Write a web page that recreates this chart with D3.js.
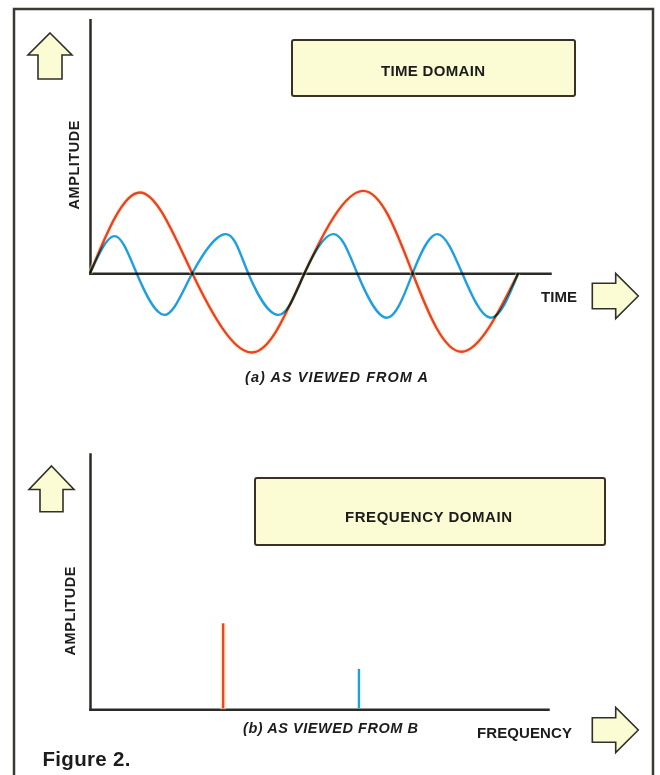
<!DOCTYPE html>
<html>
<head>
<meta charset="utf-8">
<script src="https://cdn.jsdelivr.net/npm/d3@7"></script>
<style>
  body { margin: 0; background: #fff; }
  svg { display: block; }
  text { font-family: "Liberation Sans", Arial, sans-serif; font-weight: bold; fill: #1c1c1c; }
</style>
</head>
<body>
<svg id="fig" width="660" height="775"></svg>
<script>
// Time-domain traces: times and amplitudes at zero crossings and extremes
const redTime  = [0, 0.467, 0.956, 1.511, 2.005, 2.554, 3.016, 3.474, 4.003];
const redAmp   = [0, 1.01, 0, -0.99, 0, 1.03, 0, -0.98, 0];
const blueTime = [0, 0.227, 0.436, 0.694, 0.956, 1.268, 1.479, 1.760, 2.005,
                  2.274, 2.498, 2.773, 3.016, 3.246, 3.479, 3.745, 4.003];
const blueAmp  = [0, 0.465, 0, -0.52, 0, 0.49, 0, -0.52, 0,
                  0.49, 0, -0.555, 0, 0.49, 0, -0.555, 0];

// Frequency-domain lines (one per component)
const spectrumFreq = [1, 2.02];
const spectrumAmp  = [1, 0.47];

const seriesColors = ["#ec4230", "#1d9fe0"];
const panelTitles  = ["TIME DOMAIN", "FREQUENCY DOMAIN"];
const axisLabels   = ["TIME", "FREQUENCY", "AMPLITUDE"];
const captions     = ["(a) AS VIEWED FROM A", "(b) AS VIEWED FROM B"];
const figureTitle  = "Figure 2.";

const svg = d3.select("#fig");
const ink = "#2a2a26";
const paleYellow = "#fbfbd4";

// Page frame
svg.append("path")
  .attr("d", "M14,775V9H653V775")
  .attr("fill", "none").attr("stroke", "#3a3a34").attr("stroke-width", 2.5);

// ---------- (a) time domain ----------
const xT = d3.scaleLinear().domain([0, 4.3]).range([90, 550]);
const yT = d3.scaleLinear().domain([-1, 1]).range([353.3, 193.3]);
const yTAxisTop = 3.17;

function styleAxis(g) {
  g.select(".domain").attr("stroke", ink).attr("stroke-width", 2.5)
    .attr("stroke-linecap", "square");
}

svg.append("g")
  .attr("transform", `translate(0,${yT(0)})`)
  .call(d3.axisBottom(xT).tickValues([]).tickSizeOuter(0))
  .call(styleAxis);
svg.append("g")
  .attr("transform", `translate(${xT(0)},0)`)
  .call(d3.axisLeft(yT.copy().domain([0, yTAxisTop]).range([yT(0), yT(yTAxisTop)]))
    .tickValues([]).tickSizeOuter(0))
  .call(styleAxis);

const waveLine = d3.line()
  .x(d => xT(d[0])).y(d => yT(d[1]))
  .curve(d3.curveNatural);

const redPts  = redTime.map((t, i) => [t, redAmp[i]]);
const bluePts = blueTime.map((t, i) => [t, blueAmp[i]]);

// faint ink fringe around the red trace
svg.append("path").attr("d", waveLine(redPts))
  .attr("fill", "none").attr("stroke", "#ffe9a8").attr("stroke-width", 5)
  .attr("opacity", 0.45);

const waves = svg.append("g");
[redPts, bluePts].forEach((pts, i) => {
  waves.append("path").attr("d", waveLine(pts))
    .attr("fill", "none").attr("stroke", seriesColors[i])
    .attr("stroke-width", 2.4).attr("stroke-linejoin", "round")
    .style("mix-blend-mode", "multiply");
});

// ---------- (b) frequency domain ----------
const xF = d3.scaleLinear().domain([0, 3.44]).range([90, 548]);
const yF = d3.scaleLinear().domain([0, 1]).range([709.3, 623.3]);
const yFAxisTop = 2.97;

svg.append("g")
  .attr("transform", `translate(0,${yF(0)})`)
  .call(d3.axisBottom(xF).tickValues([]).tickSizeOuter(0))
  .call(styleAxis);
svg.append("g")
  .attr("transform", `translate(${xF(0)},0)`)
  .call(d3.axisLeft(yF.copy().domain([0, yFAxisTop]).range([yF(0), yF(yFAxisTop)]))
    .tickValues([]).tickSizeOuter(0))
  .call(styleAxis);

const spikes = spectrumFreq.map((f, i) => ({ f, a: spectrumAmp[i], c: seriesColors[i] }));
svg.append("line")
  .attr("x1", xF(spikes[0].f)).attr("x2", xF(spikes[0].f))
  .attr("y1", yF(0)).attr("y2", yF(spikes[0].a))
  .attr("stroke", "#ffe9a8").attr("stroke-width", 6).attr("opacity", 0.5);
svg.selectAll("line.spike").data(spikes).join("line")
  .attr("class", "spike")
  .attr("x1", d => xF(d.f)).attr("x2", d => xF(d.f))
  .attr("y1", yF(0) - 1).attr("y2", d => yF(d.a))
  .attr("stroke", d => d.c).attr("stroke-width", 2.4);

// ---------- title boxes ----------
const boxes = [
  { x: 292, y: 40, w: 283, h: 56, tx: 433, ty: 76, len: 104 },
  { x: 255, y: 478, w: 350, h: 67, tx: 428.5, ty: 521.5, len: 167 }
];
boxes.forEach((b, i) => {
  svg.append("rect").attr("x", b.x).attr("y", b.y).attr("width", b.w).attr("height", b.h)
    .attr("rx", 2).attr("fill", paleYellow).attr("stroke", "#3a3024").attr("stroke-width", 2);
  svg.append("text").attr("x", b.tx).attr("y", b.ty).attr("text-anchor", "middle")
    .attr("font-size", 15).attr("textLength", b.len).text(panelTitles[i]);
});

// ---------- hollow arrows ----------
function upArrow(cx, tip, headY, halfHead, halfShaft, bottom) {
  return `M${cx},${tip}L${cx + halfHead},${headY}H${cx + halfShaft}V${bottom}` +
         `H${cx - halfShaft}V${headY}H${cx - halfHead}Z`;
}
function rightArrow(cy, tip, headX, halfHead, halfShaft, left) {
  return `M${tip},${cy}L${headX},${cy + halfHead}V${cy + halfShaft}H${left}` +
         `V${cy - halfShaft}H${headX}V${cy - halfHead}Z`;
}
const arrowPaths = [
  upArrow(50, 33, 55, 22, 12, 79),
  upArrow(51.5, 466, 489.5, 22.5, 11.5, 511.7),
  rightArrow(296, 638.3, 615.7, 22.5, 12.8, 592.3),
  rightArrow(730, 638.3, 615.7, 22.5, 12.2, 592.3)
];
svg.selectAll("path.arrow").data(arrowPaths).join("path")
  .attr("class", "arrow").attr("d", d => d)
  .attr("fill", paleYellow).attr("stroke", "#30302a").attr("stroke-width", 1.6)
  .attr("stroke-linejoin", "miter");

// ---------- axis labels ----------
svg.append("text").attr("x", 541).attr("y", 301.7).attr("font-size", 15)
  .attr("textLength", 36).text(axisLabels[0]);
svg.append("text").attr("x", 477).attr("y", 738).attr("font-size", 15)
  .attr("textLength", 95).text(axisLabels[1]);
[[79.3, 165], [75.3, 611]].forEach(([x, y]) => {
  svg.append("text").attr("transform", `translate(${x},${y}) rotate(-90)`)
    .attr("text-anchor", "middle").attr("font-size", 14.5).attr("textLength", 89)
    .text(axisLabels[2]);
});

// ---------- captions ----------
[[336.5, 382, 183], [330.5, 733, 175]].forEach(([x, y, len], i) => {
  svg.append("text").attr("x", x).attr("y", y).attr("text-anchor", "middle")
    .attr("font-size", 14.5).attr("font-style", "italic").attr("textLength", len)
    .text(captions[i]);
});

svg.append("text").attr("x", 42.5).attr("y", 766).attr("font-size", 20.5)
  .attr("textLength", 88).text(figureTitle);
</script>
</body>
</html>
